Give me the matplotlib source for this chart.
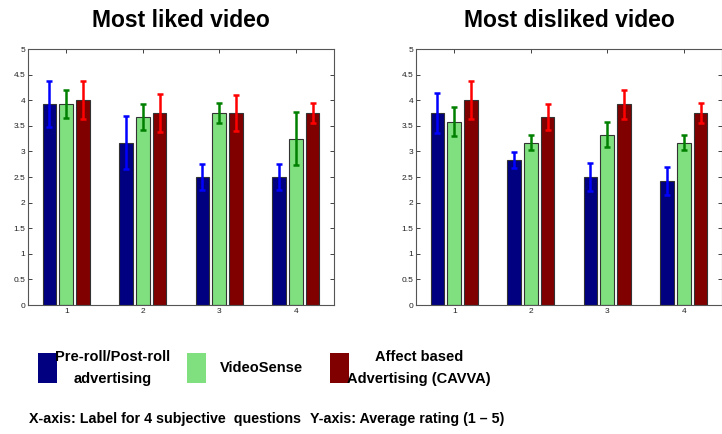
import numpy as np
import matplotlib.pyplot as plt
from matplotlib.patches import Rectangle

plt.rcParams['font.family'] = ['Liberation Sans', 'DejaVu Sans']

questions = [1, 2, 3, 4]
series_names = ['Pre-roll/Post-roll\nadvertising', 'VideoSense', 'Affect based\nAdvertising (CAVVA)']

# mean ratings, one list per method
liked_means = [
    [3.92, 3.17, 2.50, 2.50],
    [3.92, 3.67, 3.75, 3.25],
    [4.00, 3.75, 3.75, 3.75],
]
liked_err = [
    [0.45, 0.52, 0.26, 0.26],
    [0.27, 0.25, 0.19, 0.52],
    [0.37, 0.38, 0.36, 0.19],
]
disliked_means = [
    [3.75, 2.83, 2.50, 2.42],
    [3.58, 3.17, 3.33, 3.17],
    [4.00, 3.67, 3.92, 3.75],
]
disliked_err = [
    [0.39, 0.15, 0.27, 0.27],
    [0.28, 0.15, 0.25, 0.15],
    [0.37, 0.25, 0.28, 0.20],
]

bar_colors = ['#000080', '#80E080', '#800000']
err_colors = ['#0000FF', '#008000', '#FF0000']

W, H = 722, 434
fig = plt.figure(figsize=(W / 100, H / 100), dpi=100)


def draw_panel(rect, means, errs, title):
    ax = fig.add_axes(rect)
    x = np.array(questions, dtype=float)
    offsets = [-0.22, 0.0, 0.22]
    for i in range(3):
        ax.bar(x + offsets[i], means[i], width=0.18, color=bar_colors[i],
               edgecolor='#333333', linewidth=0.8, zorder=2)
        ax.errorbar(x + offsets[i], means[i], yerr=errs[i], fmt='none',
                    ecolor=err_colors[i], elinewidth=1.8, capsize=2.5,
                    capthick=1.8, zorder=3)
    ax.set_xlim(0.5, 4.5)
    ax.set_ylim(0, 5)
    ax.set_xticks(questions)
    ax.set_yticks(np.arange(0, 5.01, 0.5))
    ax.set_yticklabels(['0', '0.5', '1', '1.5', '2', '2.5', '3', '3.5', '4', '4.5', '5'])
    ax.tick_params(direction='in', top=True, right=True, length=3,
                   width=0.6, labelsize=6, colors='#222222', pad=2)
    for s in ax.spines.values():
        s.set_color('#555555')
        s.set_linewidth(0.8)
    ax.set_title(title, fontsize=16.5, fontweight='bold', pad=16)
    return ax


draw_panel([28 / W, 129 / H, 306 / W, 256 / H], liked_means, liked_err, 'Most liked video')
draw_panel([416 / W, 129 / H, 306 / W, 256 / H], disliked_means, disliked_err, 'Most disliked video')

# legend drawn in figure pixels
swatch_x = [38, 187, 330]
label_x = [113, 261, 419]
for i in range(3):
    fig.add_artist(Rectangle((swatch_x[i] / W, (H - 383) / H), 19 / W, 30 / H,
                             transform=fig.transFigure, facecolor=bar_colors[i],
                             edgecolor='none'))
    fig.text(label_x[i] / W, (H - 368) / H, series_names[i], ha='center', va='center',
             fontsize=10.5, fontweight='bold', linespacing=1.65)

fig.text(29 / W, (H - 419) / H, 'X-axis: Label for 4 subjective  questions',
         ha='left', va='center', fontsize=10.3, fontweight='bold')
fig.text(310 / W, (H - 419) / H, 'Y-axis: Average rating (1 \u2013 5)',
         ha='left', va='center', fontsize=10.3, fontweight='bold')

fig.savefig('out.png', dpi=100)
